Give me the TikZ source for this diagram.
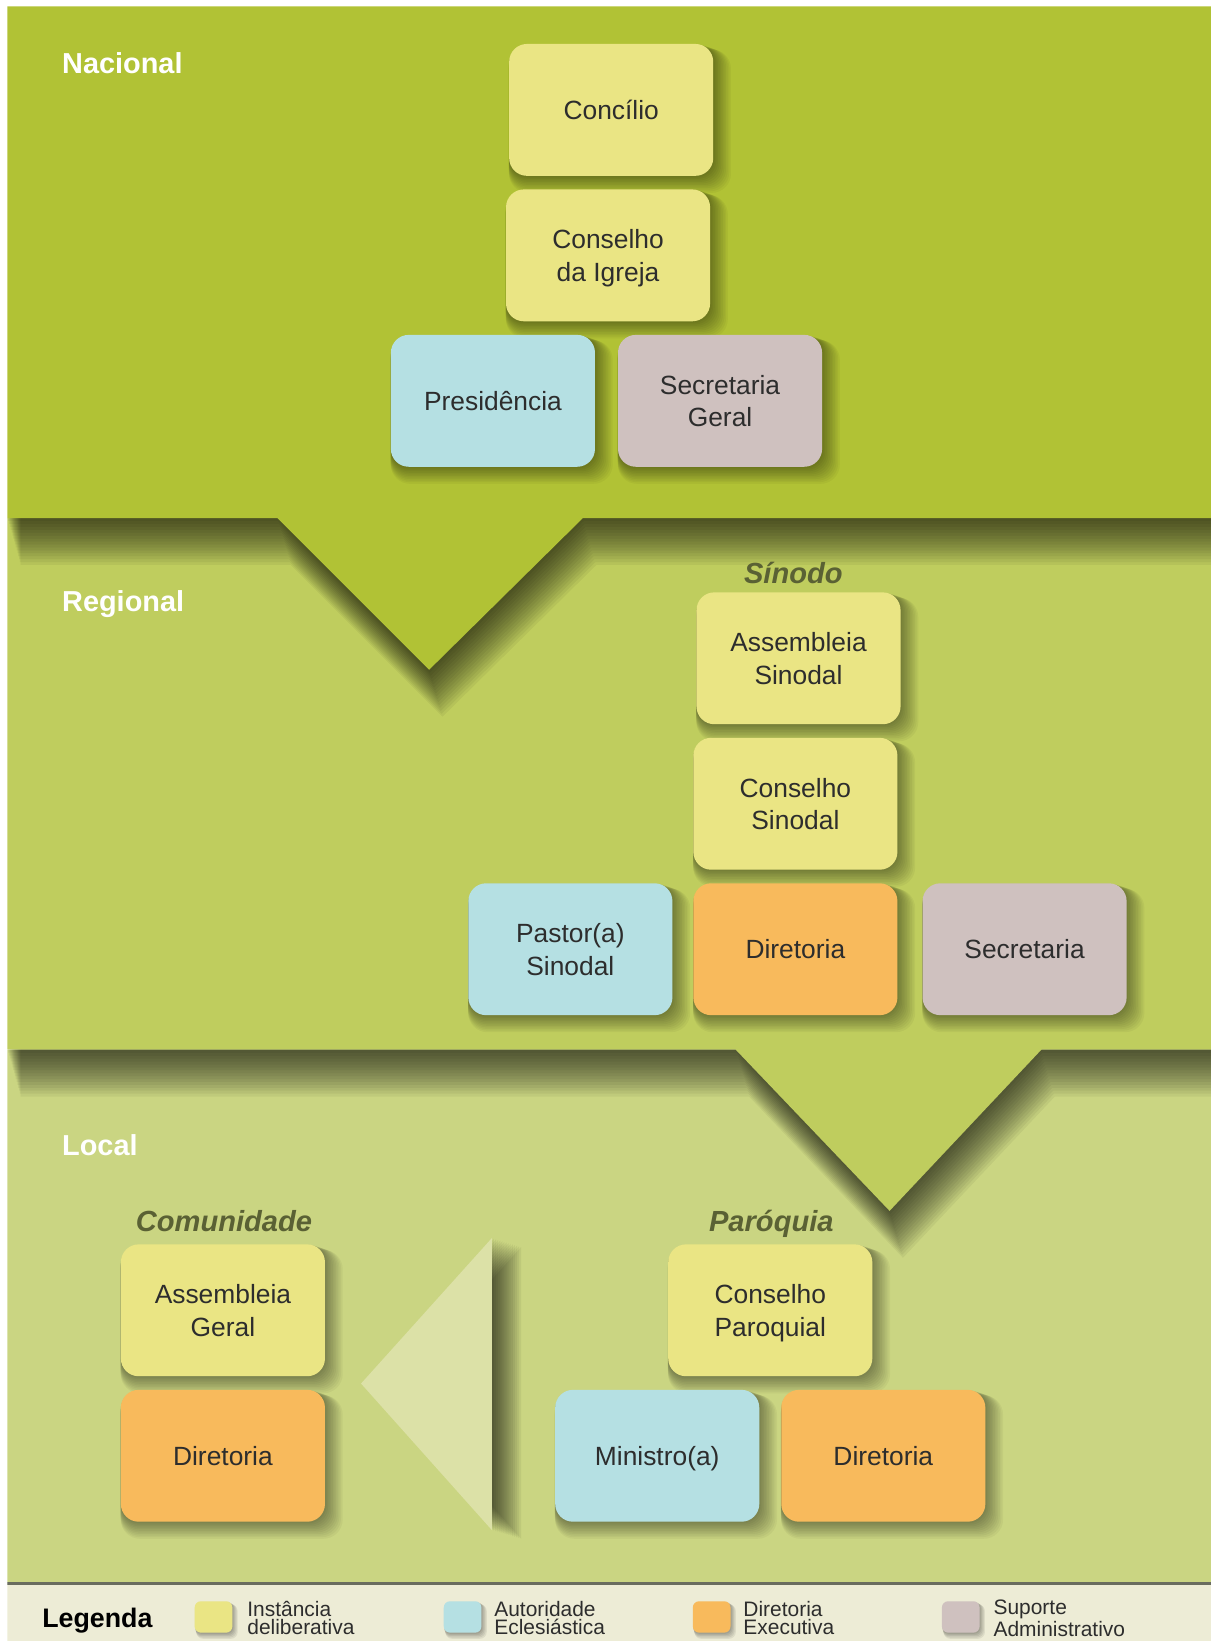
\documentclass[tikz,border=0pt]{standalone}
\usepackage{fontspec}
\setmainfont{Liberation Sans}
\usetikzlibrary{shadows}
\definecolor{nacgreen}{RGB}{177,194,53}
\definecolor{reggreen}{RGB}{191,205,94}
\definecolor{locgreen}{RGB}{202,213,130}
\definecolor{legbg}{RGB}{237,236,214}
\definecolor{trigreen}{RGB}{220,225,167}
\definecolor{delib}{RGB}{234,229,132}
\definecolor{autor}{RGB}{181,224,227}
\definecolor{diret}{RGB}{248,186,92}
\definecolor{suporte}{RGB}{207,193,191}
\definecolor{olivetext}{RGB}{90,97,52}
\definecolor{boxtext}{RGB}{45,45,45}
\definecolor{legline}{RGB}{105,108,95}
\newcommand{\boxfont}   {\fontsize{12.6}{15.5}\selectfont}
\newcommand{\levelfont} {\bfseries\fontsize{13.8}{16}\selectfont}
\newcommand{\unitfont}  {\bfseries\itshape\fontsize{13.9}{16}\selectfont}
\newcommand{\legfont}   {\fontsize{10}{8.5}\selectfont}
\tikzset{
  boxlayer/.style={general shadow={fill=black, opacity=0.04,
      shadow scale=1+#1*0.008, shadow xshift=#1*0.35pt, shadow yshift=-#1*0.45pt}},
  bandlayer/.style={general shadow={fill=black, opacity=0.05,
      shadow xshift=#1*0.4pt, shadow yshift=-#1*1.4pt}},
  trilayer/.style={general shadow={fill=black, opacity=0.055,
      shadow xshift=#1*1pt, shadow yshift=-#1*0.3pt}},
  swlayer/.style={general shadow={fill=black, opacity=0.07,
      shadow scale=1+#1*0.02, shadow xshift=#1*0.3pt, shadow yshift=-#1*0.4pt}},
  orgbox/.style={rounded corners=8.5pt, minimum width=97.5pt, minimum height=63pt,
    align=center, text=boxtext, font=\boxfont, text depth=0pt,
    boxlayer/.list={1,...,11}},
  bandshadow/.style={bandlayer/.list={1,...,16}},
  levellabel/.style={anchor=base west, text=white, font=\levelfont, inner sep=0pt},
  unitlabel/.style={anchor=base, text=olivetext, font=\unitfont, inner sep=0pt},
  legswatch/.style={rounded corners=3pt, minimum width=18pt, minimum height=15pt,
    inner sep=0pt, swlayer/.list={1,...,5}},
  legtext/.style={anchor=west, align=left, text=boxtext, font=\legfont, inner sep=0pt,
    text depth=0pt}
}

\begin{document}
\begin{tikzpicture}[x=0.5pt,y=-0.5pt]
  \useasboundingbox (0,0) rectangle (1157,1568);
  \begin{scope}
   \clip (7,6) rectangle (1157,1568);
   % bands, lowest first
   \fill[locgreen] (7,1003) rectangle (1157,1512);
   \fill[legbg] (7,1512) rectangle (1157,1568);
   \draw[legline, line width=1.5pt] (7,1513) -- (1157,1513);
   \fill[reggreen, bandshadow] (7,495) -- (1157,495) -- (1157,1003) -- (995,1003)
     -- (850,1157) -- (703,1003) -- (7,1003) -- cycle;
   \fill[nacgreen, bandshadow] (7,6) -- (1157,6) -- (1157,495) -- (557,495)
     -- (410,640) -- (265,495) -- (7,495) -- cycle;
   \fill[trigreen, trilayer/.list={1,...,14}] (470,1183) -- (470,1462) -- (345,1322) -- cycle;

   % levels
   \node[levellabel] (nacional) at (59,70) {Nacional};
   \node[levellabel] (regional) at (59,584) {Regional};
   \node[levellabel] (local) at (59,1104) {Local};

   % nacional
   \node[orgbox, fill=delib] (concilio) at (584,105) {Concílio};
   \node[orgbox, fill=delib] (conselhoigreja) at (581,244) {Conselho\\da Igreja};
   \node[orgbox, fill=autor] (presidencia) at (471,383) {Presidência};
   \node[orgbox, fill=suporte] (secgeral) at (688,383) {Secretaria\\Geral};

   % regional
   \node[unitlabel] (sinodo) at (758,558) {Sínodo};
   \node[orgbox, fill=delib] (assembsinodal) at (763,629) {Assembleia\\Sinodal};
   \node[orgbox, fill=delib] (conssinodal) at (760,768) {Conselho\\Sinodal};
   \node[orgbox, fill=autor] (pastor) at (545,907) {Pastor(a)\\Sinodal};
   \node[orgbox, fill=diret] (dirsinodo) at (760,907) {Diretoria};
   \node[orgbox, fill=suporte] (secsinodo) at (979,907) {Secretaria};

   % local
   \node[unitlabel] (comunidade) at (214,1177) {Comunidade};
   \node[orgbox, fill=delib] (assembgeral) at (213,1252) {Assembleia\\Geral};
   \node[orgbox, fill=diret] (dircomun) at (213,1391) {Diretoria};
   \node[unitlabel] (paroquia) at (737,1177) {Paróquia};
   \node[orgbox, fill=delib] (consparoq) at (736,1252) {Conselho\\Paroquial};
   \node[orgbox, fill=autor] (ministro) at (628,1391) {Ministro(a)};
   \node[orgbox, fill=diret] (dirparoq) at (844,1391) {Diretoria};

   % legenda
   \node[anchor=west, inner sep=0pt, text=black, font=\bfseries\fontsize{12.8}{14}\selectfont,
     text depth=0pt] (legenda) at (40,1546) {Legenda};
   \node[legswatch, fill=delib] (swdelib) at (204,1545) {};
   \node[legtext] (txdelib) at (236,1546) {Instância\\deliberativa};
   \node[legswatch, fill=autor] (swautor) at (442,1545) {};
   \node[legtext] (txautor) at (472,1546) {Autoridade\\Eclesiástica};
   \node[legswatch, fill=diret] (swdiret) at (680,1545) {};
   \node[legtext] (txdiret) at (710,1546) {Diretoria\\Executiva};
   \node[legswatch, fill=suporte] (swsuporte) at (918,1545) {};
   \node[legtext] (txsuporte) at (949,1546) {Suporte\\Administrativo};
  \end{scope}
\end{tikzpicture}
\end{document}
